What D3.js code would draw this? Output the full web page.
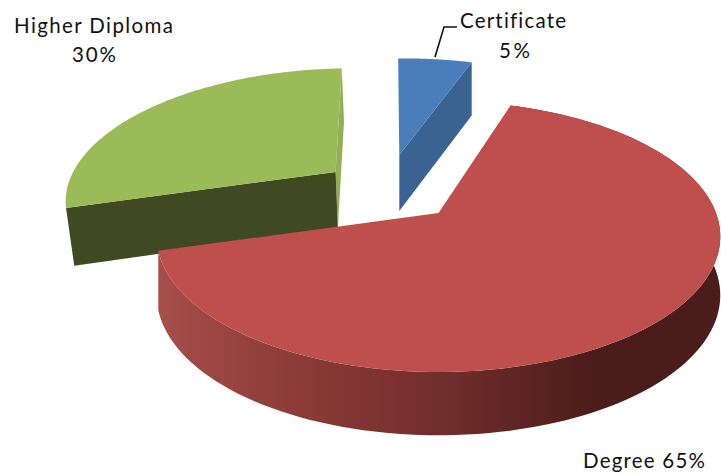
<!DOCTYPE html>
<html>
<head>
<meta charset="utf-8">
<script src="https://cdn.jsdelivr.net/npm/d3@7/dist/d3.min.js"></script>
<style>
html,body{margin:0;padding:0;background:#fff;overflow:hidden}
svg{display:block}
text{font-family:Lato,"Open Sans",sans-serif;font-size:20.5px;fill:#111;font-variant-ligatures:none}
</style>
</head>
<body>
<svg id="c" width="721" height="474"></svg>
<script>
const categories = ["Certificate", "Degree", "Higher Diploma"];
const values = [5, 65, 30];
const topColors = ["#4a7ebb", "#be4f4c", "#9bbb59"];
const cutColors = ["#3a6391", "#6a2a28", "#404a22"];
const endCutColors = ["#4a7ebb", "#6a2a28", "#94ae54"];
const explodeU = [-0.153, 0, -0.392];
const explodeV = [0.478, 0, 0.33];
const stretchV = [1, 1, 1.03];
const startTrim = [-1.3, 0, 2];
const endTrim = [0, 2.5, -1.8];
const wallShrink = [0, 0, 0.022];
const drawOrder = [2, 0, 1];

const centerX = 438.5, centerY = 213, radiusX = 277.5, radiusY = 131.4, persp = 0.1735;
const depthBase = 58, depthPersp = 25;
const deg = Math.PI / 180;
const rotation = -0.4 * deg;

const svg = d3.select("#c");
const defs = svg.append("defs");
const grad = defs.append("linearGradient").attr("id", "redWall")
  .attr("gradientUnits", "userSpaceOnUse").attr("x1", 160).attr("x2", 721).attr("y1", 0).attr("y2", 0);
[[0, "#a54e4a"], [0.25, "#8b3a37"], [0.5, "#722e2c"], [0.78, "#4a1c1a"], [1, "#4a1c1a"]]
  .forEach(([o, c]) => grad.append("stop").attr("offset", o).attr("stop-color", c));

const arcs = d3.pie().sort(null).value(d => d)
  .startAngle(rotation).endAngle(rotation + 2 * Math.PI)(values);

function project(angle, r, i, bottom) {
  const u = r * Math.sin(angle) + explodeU[i];
  const v = r * Math.cos(angle) * stretchV[i] + explodeV[i];
  const s = 1 / (1 + persp * v);
  let x = radiusX * u * s;
  let y = -radiusY * v * s;
  if (bottom) {
    x *= 1 - wallShrink[i];
    y += depthBase + depthPersp * (s - 1);
  }
  return [centerX + x, centerY + y];
}

const line = d3.line();
const closed = pts => line(pts) + "Z";
const rim = (a0, a1, i, bottom) =>
  d3.range(0, 121).map(k => project(a0 + (a1 - a0) * k / 120, 1, i, bottom));

drawOrder.forEach(i => {
  const a0 = arcs[i].startAngle + startTrim[i] * deg;
  const a1 = arcs[i].endAngle + endTrim[i] * deg;
  const g = svg.append("g").attr("class", "slice").datum(categories[i]);
  const quad = ang => [project(ang, 1, i, false), project(ang, 0, i, false),
                       project(ang, 0, i, true), project(ang, 1, i, true)];
  if (i === 1) {
    g.append("path")
      .attr("d", closed(rim(a0, a1, i, false).concat(rim(a0, a1, i, true).reverse())))
      .attr("fill", "url(#redWall)");
  } else if (i === 0) {
    g.append("path").attr("d", closed(quad(a1))).attr("fill", cutColors[i]);
  } else {
    g.append("path").attr("d", closed(quad(a1))).attr("fill", endCutColors[i]);
    g.append("path").attr("d", closed(quad(a0))).attr("fill", cutColors[i]);
  }
  g.append("path")
    .attr("d", closed([project(0, 0, i, false)].concat(rim(a0, a1, i, false))))
    .attr("fill", topColors[i]);
});

svg.append("path")
  .attr("d", line([[435, 57], [444, 27], [457, 27]]))
  .attr("fill", "none").attr("stroke", "#111").attr("stroke-width", 1.6);

const label = (t, x, y, w) => svg.append("text").attr("x", x).attr("y", y)
  .attr("textLength", w).attr("lengthAdjust", "spacing").text(t);
label(categories[2], 14, 33, 159);
label(values[2] + "%", 72, 62, 44);
label(categories[0], 460, 28, 106);
label(values[0] + "%", 499, 58, 31);
label(categories[1] + " " + values[1] + "%", 583, 468, 122);
</script>
</body>
</html>
